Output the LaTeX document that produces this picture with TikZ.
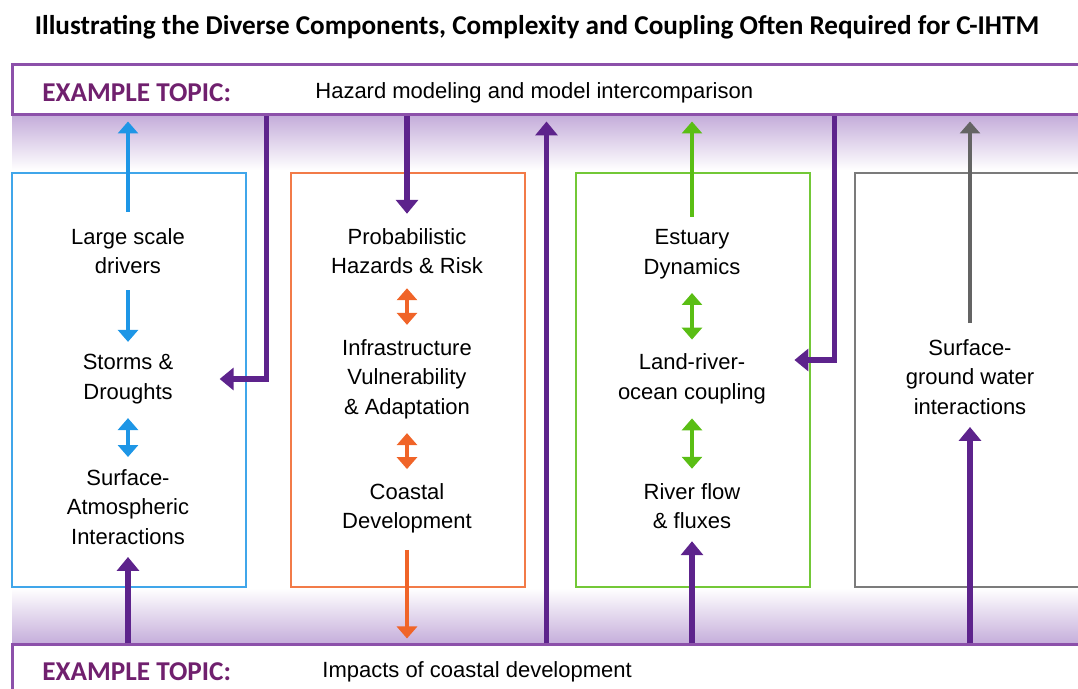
\documentclass[tikz,border=0pt]{standalone}
\usepackage{fontspec}
\setmainfont{Liberation Sans}
\newfontfamily\headfont{Carlito}
\usetikzlibrary{arrows.meta}

\definecolor{purpdark}{RGB}{93,35,140}
\definecolor{purpline}{RGB}{140,80,170}
\definecolor{purptext}{RGB}{112,32,110}
\definecolor{purpband}{RGB}{196,172,218}
\definecolor{blueA}{RGB}{30,150,230}
\definecolor{orangeA}{RGB}{240,100,40}
\definecolor{greenA}{RGB}{90,190,20}
\definecolor{grayA}{RGB}{100,100,100}

\tikzset{
  txt/.style={align=center, inner sep=0pt, font=\fontsize{11}{14.75}\selectfont},
  colbox/.style={draw, line width=1pt, minimum width=117pt, minimum height=207pt},
  topicbox/.style={draw=purpline, line width=1.5pt, fill=white, minimum width=544pt},
  topiclbl/.style={anchor=west, inner sep=0pt, text=purptext, font=\headfont\bfseries\fontsize{13.6}{15}\selectfont},
  arr/.style={line width=2pt, -{Triangle[length=6pt,width=10pt]}},
  darr/.style={line width=2pt, {Triangle[length=6pt,width=10pt]}-{Triangle[length=6pt,width=10pt]}},
  parr/.style={purpdark, line width=2.8pt, -{Triangle[length=7pt,width=11pt]}}
}

\begin{document}
\begin{tikzpicture}[x=0.5pt,y=-0.5pt]
    \useasboundingbox (0,0) rectangle (1078,689);

    % Title
    \node[font=\headfont\bfseries\fontsize{13.6}{15}\selectfont] (title) at (537,27)
        {Illustrating the Diverse Components, Complexity and Coupling Often Required for C-IHTM};

    % Shaded bands under and over the topics
    \shade[top color=purpband, bottom color=white] (12,115) rectangle (1078,170);
    \shade[top color=white, bottom color=purpband] (12,588) rectangle (1078,645);

    % Topic boxes
    \node[topicbox, minimum height=25pt] (top) at (556,90) {};
    \node[topicbox, minimum height=27.5pt] (bot) at (556,672.5) {};
    \node[topiclbl] (toplbl) at (42,93) {EXAMPLE TOPIC:};
    \node[txt, anchor=west] (toptxt) at (315,93) {Hazard modeling and model intercomparison};
    \node[topiclbl] (botlbl) at (42,672) {EXAMPLE TOPIC:};
    \node[txt, anchor=west] (bottxt) at (322,672) {Impacts of coastal development};

    % Column boxes
    \node[colbox, draw=blueA!85!white] (bluebox) at (129,380) {};
    \node[colbox, draw=orangeA!85!white] (orangebox) at (407.5,380) {};
    \node[colbox, draw=greenA!85!white] (greenbox) at (692.5,380) {};
    \draw[grayA!85!white, line width=1pt] (1080,173) -- (855,173) -- (855,587) -- (1080,587);

    % Column texts
    \node[txt] (drivers) at (128,251) {Large scale\\drivers};
    \node[txt] (storms) at (128,379) {Storms \&\\Droughts};
    \node[txt] (atmos) at (128,507) {Surface-\\Atmospheric\\Interactions};
    \node[txt] (hazrisk) at (407,251) {Probabilistic\\Hazards \& Risk};
    \node[txt] (infra) at (407,379) {Infrastructure\\Vulnerability\\\& Adaptation};
    \node[txt] (coastdev) at (407,508.5) {Coastal\\Development};
    \node[txt] (estuary) at (692,254) {Estuary\\Dynamics};
    \node[txt] (landriver) at (692,379) {Land-river-\\ocean coupling};
    \node[txt] (riverflow) at (692,506) {River flow\\\& fluxes};
    \node[txt] (gwater) at (970,377) {Surface-\\ground water\\interactions};

    % Arrows inside the columns
    \draw[arr, blueA, shorten <=8pt, shorten >=2.5pt] (drivers.north) -- (drivers.north |- top.south);
    \draw[arr, blueA, shorten <=8pt, shorten >=6pt] (drivers) -- (storms);
    \draw[darr, blueA, shorten <=7pt, shorten >=6pt] (storms) -- (atmos);
    \draw[darr, orangeA, shorten <=7pt, shorten >=7pt] (hazrisk) -- (infra);
    \draw[darr, orangeA, shorten <=7pt, shorten >=7pt] (infra) -- (coastdev);
    \draw[arr, orangeA, shorten <=8pt, shorten >=2.5pt] (coastdev.south) -- (coastdev.south |- bot.north);
    \draw[arr, greenA, shorten <=6pt, shorten >=2.5pt] (estuary.north) -- (estuary.north |- top.south);
    \draw[darr, greenA, shorten <=7pt, shorten >=7pt] (estuary) -- (landriver);
    \draw[darr, greenA, shorten <=7pt, shorten >=7pt] (landriver) -- (riverflow);
    \draw[arr, grayA, shorten <=8pt, shorten >=2.5pt] (gwater.north) -- (gwater.north |- top.south);

    % Coupling with the topics
    \draw[parr, shorten >=7pt] (top.south -| hazrisk) -- (hazrisk.north);
    \draw[parr] ([xshift=128pt]top.south west) |- ([xshift=23pt]storms.east);
    \draw[parr] ([xshift=412pt]top.south west) |- ([xshift=14pt,yshift=9.5pt]landriver.east);
    \draw[parr, shorten >=2.5pt] ([xshift=268pt]bot.north west) -- ([xshift=268pt]top.south west);
    \draw[parr, shorten >=6pt] (bot.north -| atmos) -- (atmos.south);
    \draw[parr, shorten >=6pt] (bot.north -| riverflow) -- (riverflow.south);
    \draw[parr, shorten >=6pt] (bot.north -| gwater) -- (gwater.south);
\end{tikzpicture}
\end{document}
